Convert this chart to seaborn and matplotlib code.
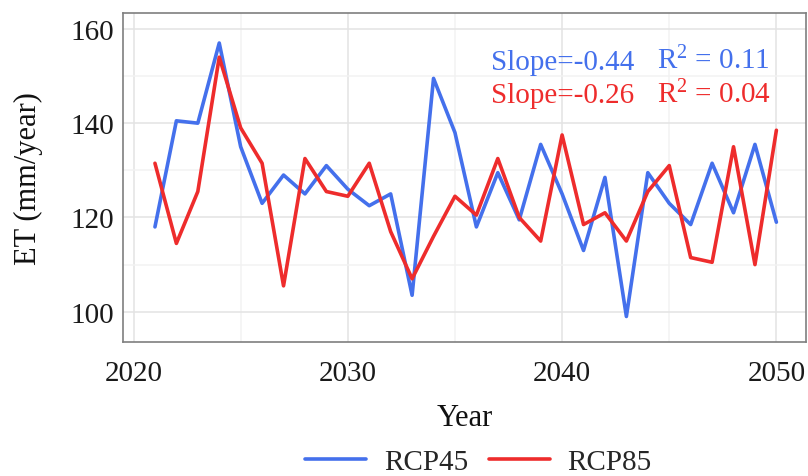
import matplotlib
matplotlib.use("Agg")
import matplotlib.pyplot as plt
import seaborn as sns
import pandas as pd
from matplotlib.ticker import MultipleLocator
from matplotlib.lines import Line2D

years = list(range(2021, 2051))
rcp45 = [118, 140.5, 140, 157, 135, 123, 129, 125, 131, 126,
         122.5, 125, 103.5, 149.5, 138, 118, 129.5, 119.5, 135.5, 125,
         113, 128.5, 99, 129.5, 123, 118.5, 131.5, 121, 135.5, 119]
rcp85 = [131.5, 114.5, 125.5, 154, 139, 131.5, 105.5, 132.5, 125.5, 124.5,
         131.5, 117, 107, 116, 124.5, 120.5, 132.5, 120, 115, 137.5,
         118.5, 121, 115, 125.5, 131, 111.5, 110.5, 135, 110, 138.5]
series_names = ["RCP45", "RCP85"]
slope_labels = ["Slope=-0.44", "Slope=-0.26"]
r2_labels = ["0.11", "0.04"]
colors = ["#4470EC", "#EE2C2C"]

df = pd.DataFrame({
    "Year": years * 2,
    "ET": rcp45 + rcp85,
    "Scenario": [series_names[0]] * len(years) + [series_names[1]] * len(years),
})

sns.set_theme(style="whitegrid")
plt.rcParams["font.family"] = ["Liberation Serif", "DejaVu Serif"]
plt.rcParams["mathtext.fontset"] = "custom"
plt.rcParams["mathtext.rm"] = "Liberation Serif"
plt.rcParams["mathtext.it"] = "Liberation Serif"

fig = plt.figure(figsize=(8.08, 4.77), dpi=100)
ax = fig.add_axes([0.152, 0.281, 0.846, 0.690])

sns.lineplot(data=df, x="Year", y="ET", hue="Scenario", palette=colors,
             linewidth=2.6, ax=ax, legend=False)

ax.set_xlim(2019.5, 2051.4)
ax.set_ylim(93.6, 163.4)
ax.xaxis.set_major_locator(MultipleLocator(10))
ax.xaxis.set_minor_locator(MultipleLocator(5))
ax.yaxis.set_major_locator(MultipleLocator(20))
ax.yaxis.set_minor_locator(MultipleLocator(10))
ax.grid(which="major", color="#E3E3E3", linewidth=1.1)
ax.grid(which="minor", color="#F2F2F2", linewidth=1.1)
ax.set_axisbelow(True)
for s in ax.spines.values():
    s.set_color("#7F7F7F")
    s.set_linewidth(1.2)
ax.tick_params(axis="both", which="major", labelsize=21, color="#333333",
               length=4, width=1.1, colors="#1a1a1a", pad=2)
ax.tick_params(axis="x", which="major", pad=9)
ax.tick_params(axis="both", which="minor", length=0)
ax.set_xlabel("Year", fontsize=22, color="#111111", labelpad=12)
ax.set_ylabel("ET (mm/year)", fontsize=22, color="#111111", labelpad=20)

ypos = [0.830, 0.729]
for i in range(2):
    ax.text(0.538, ypos[i], slope_labels[i], transform=ax.transAxes,
            color=colors[i], fontsize=21, va="baseline", ha="left")
    ax.text(0.782, ypos[i], r"R$^{2}$ = " + r2_labels[i], transform=ax.transAxes,
            color=colors[i], fontsize=21, va="baseline", ha="left")

handles = [Line2D([0], [0], color=c, lw=2.6) for c in colors]
fig.legend(handles, series_names, loc="center", bbox_to_anchor=(0.592, 0.03),
           ncol=2, frameon=False, fontsize=21, handlelength=2.1,
           columnspacing=0.7, handletextpad=0.6)

fig.savefig("out.png", dpi=100)
